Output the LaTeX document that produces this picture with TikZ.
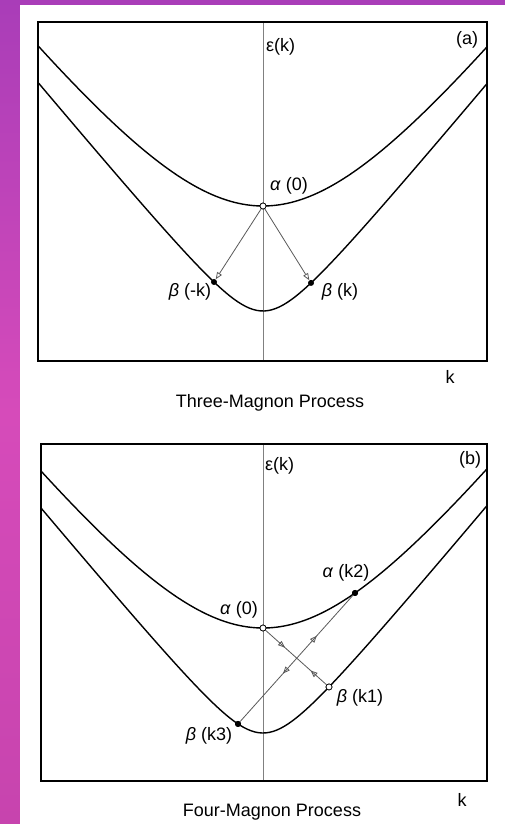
\documentclass[tikz,border=0pt]{standalone}
\usepackage{fontspec}
\setmainfont{Liberation Sans}
\usetikzlibrary{arrows.meta,decorations.markings}
\definecolor{bgtop}{HTML}{A93DB8}
\definecolor{bgmid}{HTML}{D64BBA}
\definecolor{bgbot}{HTML}{C744AE}
\begin{document}
\begin{tikzpicture}[x=1pt,y=-1pt,
  declare function={up(\x)=100*(sqrt(1.868^2+(0.013*\x)^2)-1.868);
                    lo(\x)=100*(sqrt(0.45^2+(0.012*\x)^2)-0.45);},
  frame/.style={line width=1.8pt},
  band/.style={line width=1.4pt},
  axisline/.style={line width=0.8pt, black!50},
  proc/.style={line width=0.8pt, black!65},
  opendot/.style={circle, draw=black, fill=white, inner sep=0pt, minimum size=6pt, line width=0.7pt},
  fulldot/.style={circle, fill=black, inner sep=0pt, minimum size=6pt},
  lab/.style={font=\fontsize{18}{20}\selectfont, inner sep=0pt},
  tipend/.style={-{Triangle[open, length=7pt, width=5.5pt, line width=0.8pt]}},
  fwdmark/.style={postaction={decorate, decoration={markings,
      mark=at position #1 with {\arrow{Triangle[open, length=7pt, width=5.5pt, line width=0.8pt]}}}}},
  bwdmark/.style={postaction={decorate, decoration={markings,
      mark=at position #1 with {\arrowreversed{Triangle[open, length=7pt, width=5.5pt, line width=0.8pt]}}}}},
]
\useasboundingbox (0,0) rectangle (505,824);
\shade[top color=bgtop, bottom color=bgbot, middle color=bgmid] (0,0) rectangle (505,824);
\fill[white] (20,5) rectangle (505,824);

% ---------- panel (a) ----------
\draw[axisline] (263,22) -- (263,361);
\draw[band] plot[domain=-225:224, samples=120, smooth] ({263+\x},{206-up(\x)});
\draw[band] plot[domain=-225:224, samples=120, smooth] ({263+\x},{311-lo(\x)});
\draw[frame] (38,22) rectangle (487,361);

\node[opendot] (a0) at (263,206) {};
\node[fulldot] (bmk) at ({263-49},{311-lo(-49)}) {};
\node[fulldot] (bk) at ({263+48},{311-lo(48)}) {};
\draw[proc, tipend] (a0) -- (bmk);
\draw[proc, tipend] (a0) -- (bk);
\node[opendot] at (a0) {};

\node[lab, anchor=west] (epsa) at (266,47) {ε(k)};
\node[lab] (taga) at (467,40) {(a)};
\node[lab] (la0) at (289,186) {\textit{α} (0)};
\node[lab] (lbmk) at (190,292) {\textit{β} (-k)};
\node[lab] (lbk) at (340,292) {\textit{β} (k)};
\node[lab] (ka) at (450,377) {k};
\node[lab] (tita) at (270,403) {Three-Magnon Process};

% ---------- panel (b) ----------
\draw[axisline] (263,444) -- (263,781);
\draw[band] plot[domain=-222:224, samples=120, smooth] ({263+\x},{628-up(\x)});
\draw[band] plot[domain=-222:224, samples=120, smooth] ({263+\x},{733-lo(\x)});
\draw[frame] (41,444) rectangle (487,781);

\node[opendot] (b0) at (263,628) {};
\node[fulldot] (ak2) at ({263+92},{628-up(92)}) {};
\node[opendot] (bk1) at ({263+66},{733-lo(66)}) {};
\node[fulldot] (bk3) at ({263-25},{733-lo(-25)}) {};
\draw[proc, fwdmark=0.32, bwdmark=0.74] (b0) -- (bk1);
\draw[proc, bwdmark=0.38, fwdmark=0.68] (bk3) -- (ak2);
\node[opendot] at (b0) {};
\node[opendot] at (bk1) {};
\node[fulldot] at (ak2) {};
\node[fulldot] at (bk3) {};

\node[lab, anchor=west] (epsb) at (265,466) {ε(k)};
\node[lab] (tagb) at (470,460) {(b)};
\node[lab] (lb0) at (239,610) {\textit{α} (0)};
\node[lab] (lak2) at (346,573) {\textit{α} (k2)};
\node[lab] (lbk1) at (360,698) {\textit{β} (k1)};
\node[lab] (lbk3) at (209,736) {\textit{β} (k3)};
\node[lab] (kb) at (462,800) {k};
\node[lab] (titb) at (272,812) {Four-Magnon Process};
\end{tikzpicture}
\end{document}
